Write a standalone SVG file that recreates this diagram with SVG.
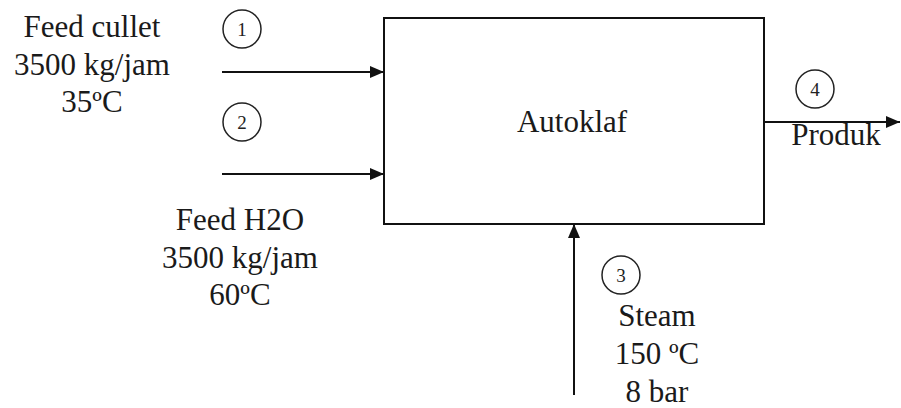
<svg xmlns="http://www.w3.org/2000/svg" width="901" height="408" viewBox="0 0 901 408">
<style>
.t{font-family:"Liberation Serif","Times New Roman",serif;font-size:31px;fill:#1a1a1a;text-anchor:middle}
.n{font-family:"Liberation Serif","Times New Roman",serif;font-size:19px;fill:#222;text-anchor:middle}
.c{fill:none;stroke:#222;stroke-width:1.5}
.l{stroke:#111;stroke-width:2;fill:none}
.box{fill:#fff;stroke:#111;stroke-width:2}
</style>
<defs>
<marker id="ah" viewBox="0 0 14 12" refX="14" refY="6" markerWidth="14" markerHeight="12" markerUnits="userSpaceOnUse" orient="auto">
<path d="M0,0 L14,6 L0,12 Z" fill="#111"/>
</marker>
</defs>
<rect width="901" height="408" fill="#fff"/>
<g id="autoklaf">
<rect class="box" x="384" y="18" width="380" height="206"/>
<text class="t" x="572" y="132">Autoklaf</text>
</g>
<g id="connectors">
<line class="l" x1="222" y1="72" x2="384" y2="72" marker-end="url(#ah)"/>
<line class="l" x1="222" y1="174" x2="384" y2="174" marker-end="url(#ah)"/>
<line class="l" x1="574" y1="395" x2="574" y2="224" marker-end="url(#ah)"/>
<line class="l" x1="764" y1="122" x2="900" y2="122" marker-end="url(#ah)"/>
</g>
<g id="stream1">
<circle class="c" cx="242" cy="29" r="19"/>
<text class="n" x="242" y="36">1</text>
<text class="t" x="92" y="37">Feed cullet</text>
<text class="t" x="92" y="75">3500 kg/jam</text>
<text class="t" x="92" y="112">35ºC</text>
</g>
<g id="stream2">
<circle class="c" cx="242" cy="122" r="19"/>
<text class="n" x="242" y="129">2</text>
<text class="t" x="240" y="230">Feed H2O</text>
<text class="t" x="240" y="268">3500 kg/jam</text>
<text class="t" x="240" y="305">60ºC</text>
</g>
<g id="stream3">
<circle class="c" cx="621" cy="275" r="19"/>
<text class="n" x="621" y="282">3</text>
<text class="t" x="657" y="326">Steam</text>
<text class="t" x="657" y="364">150 ºC</text>
<text class="t" x="657" y="402">8 bar</text>
</g>
<g id="stream4">
<circle class="c" cx="815" cy="89" r="19"/>
<text class="n" x="815" y="96">4</text>
<text class="t" x="836" y="145">Produk</text>
</g>
</svg>
